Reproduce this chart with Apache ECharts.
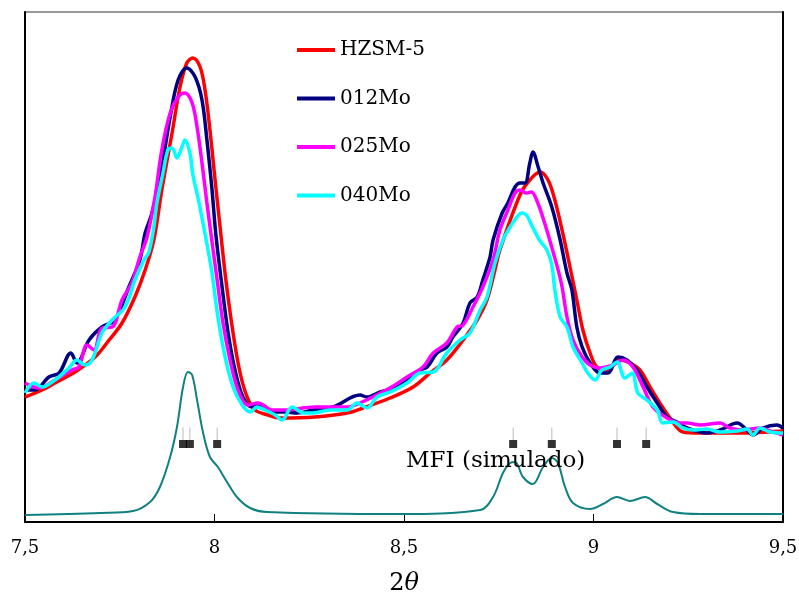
<!DOCTYPE html>
<html>
<head>
<meta charset="utf-8">
<title>DRX 2θ 7,5–9,5</title>
<script src="https://cdn.jsdelivr.net/npm/echarts@6/dist/echarts.min.js"></script>
<style>
  html, body { margin: 0; padding: 0; background: #fff; }
  #chart { width: 799px; height: 594px; }
</style>
</head>
<body>
<div id="chart"></div>
<script>
// Diffractograms, pairs of [2θ (°), intensity (a.u.)]
const hzsm5 = [
  [7.500,125],[7.545,132],[7.579,139],[7.632,150],[7.685,165],[7.722,182],[7.756,199],
  [7.790,225],[7.817,252],[7.840,282],[7.861,332],[7.888,389],[7.909,435],[7.927,459],
  [7.943,464],[7.962,455],[7.975,432],[7.988,392],[8.001,344],[8.015,294],[8.030,242],
  [8.049,189],[8.067,150],[8.086,125],[8.107,112],[8.141,107],[8.173,104],[8.265,105],
  [8.350,109],[8.392,114],[8.463,124],[8.524,135],[8.569,149],[8.613,162],[8.656,182],
  [8.693,202],[8.719,222],[8.740,252],[8.753,272],[8.806,327],[8.832,342],[8.859,350],
  [8.880,342],[8.898,322],[8.917,292],[8.938,255],[8.956,222],[8.972,192],[8.991,169],
  [9.009,155],[9.036,152],[9.070,162],[9.096,159],[9.123,152],[9.149,135],[9.175,119],
  [9.202,104],[9.236,90],[9.281,89],[9.387,89],[9.500,91]
];
const mo012 = [
  [7.500,132],[7.526,132],[7.563,145],[7.590,149],[7.621,169],[7.637,159],[7.669,182],
  [7.703,195],[7.737,202],[7.774,235],[7.803,262],[7.817,289],[7.835,309],[7.861,355],
  [7.883,405],[7.904,442],[7.927,454],[7.949,445],[7.967,422],[7.980,382],[7.993,334],
  [8.004,286],[8.020,235],[8.036,189],[8.054,152],[8.075,125],[8.099,115],[8.125,117],
  [8.152,110],[8.186,110],[8.218,109],[8.260,112],[8.313,115],[8.384,127],[8.402,125],
  [8.437,130],[8.482,135],[8.542,152],[8.561,155],[8.587,169],[8.613,175],[8.629,185],
  [8.656,199],[8.674,219],[8.693,225],[8.708,242],[8.727,265],[8.735,282],[8.759,309],
  [8.774,319],[8.793,335],[8.806,339],[8.819,339],[8.832,359],[8.840,370],[8.854,355],
  [8.867,339],[8.890,315],[8.912,282],[8.930,249],[8.943,232],[8.956,195],[8.970,175],
  [8.991,159],[9.017,149],[9.038,149],[9.065,165],[9.088,162],[9.115,152],[9.141,135],
  [9.168,119],[9.194,105],[9.220,100],[9.247,94],[9.299,89],[9.334,92],[9.379,99],
  [9.405,92],[9.421,87],[9.447,94],[9.484,97],[9.500,94]
];
const mo025 = [
  [7.500,139],[7.537,134],[7.579,142],[7.624,152],[7.642,155],[7.664,177],[7.682,172],
  [7.703,194],[7.730,195],[7.756,222],[7.782,239],[7.803,265],[7.822,285],[7.843,325],
  [7.861,372],[7.883,409],[7.904,425],[7.922,429],[7.941,419],[7.954,395],[7.967,359],
  [7.980,319],[7.991,287],[8.007,242],[8.022,200],[8.041,162],[8.062,132],[8.088,117],
  [8.115,119],[8.152,112],[8.186,112],[8.265,115],[8.350,115],[8.384,119],[8.463,134],
  [8.508,145],[8.550,155],[8.577,169],[8.613,179],[8.640,195],[8.656,197],[8.682,215],
  [8.708,235],[8.735,262],[8.753,292],[8.774,312],[8.793,329],[8.806,332],[8.823,329],
  [8.836,330],[8.852,320],[8.871,299],[8.892,272],[8.915,239],[8.930,205],[8.946,182],
  [8.970,165],[8.991,157],[9.017,154],[9.051,157],[9.078,162],[9.104,155],[9.131,135],
  [9.157,115],[9.194,104],[9.228,99],[9.247,99],[9.281,97],[9.334,99],[9.360,94],
  [9.394,92],[9.439,94],[9.474,90],[9.500,87]
];
const mo040 = [
  [7.500,129],[7.524,139],[7.545,135],[7.579,142],[7.616,154],[7.637,162],[7.658,157],
  [7.677,162],[7.703,189],[7.730,202],[7.764,215],[7.790,242],[7.814,262],[7.827,270],
  [7.840,295],[7.848,319],[7.864,349],[7.877,372],[7.888,374],[7.901,364],[7.914,375],
  [7.922,382],[7.935,369],[7.943,347],[7.956,325],[7.970,298],[7.983,272],[7.993,250],
  [8.009,205],[8.028,165],[8.049,135],[8.073,117],[8.094,110],[8.112,115],[8.133,112],
  [8.160,107],[8.178,102],[8.205,115],[8.234,109],[8.260,109],[8.305,112],[8.350,112],
  [8.376,119],[8.402,114],[8.429,125],[8.463,130],[8.508,139],[8.542,149],[8.577,150],
  [8.613,169],[8.648,182],[8.674,189],[8.701,212],[8.719,225],[8.740,259],[8.761,282],
  [8.780,295],[8.798,305],[8.811,309],[8.823,307],[8.839,295],[8.859,281],[8.877,272],
  [8.890,257],[8.898,232],[8.912,205],[8.930,195],[8.946,175],[8.970,159],[8.985,149],
  [9.004,142],[9.022,152],[9.044,155],[9.062,160],[9.083,144],[9.102,149],[9.117,129],
  [9.141,122],[9.168,112],[9.183,99],[9.210,100],[9.236,94],[9.263,92],[9.299,93],
  [9.334,90],[9.379,91],[9.405,93],[9.421,87],[9.439,94],[9.466,90],[9.500,89]
];
// Simulated MFI pattern
const mfiSim = [
  [7.500,7],[7.700,9],[7.785,11],[7.830,20],[7.856,35],[7.883,65],[7.901,95],[7.917,135],
  [7.930,150],[7.941,147],[7.954,122],[7.970,89],[7.988,65],[8.009,55],[8.033,40],
  [8.059,25],[8.094,14],[8.139,10],[8.489,8],[8.701,12],[8.735,25],[8.761,49],[8.780,59],
  [8.793,60],[8.814,45],[8.840,38],[8.867,55],[8.890,64],[8.906,59],[8.925,35],[8.946,19],
  [8.991,13],[9.025,18],[9.062,25],[9.096,21],[9.136,25],[9.168,18],[9.210,10],[9.281,8],
  [9.500,8]
];
// Reflection positions (2θ) of the simulated phase and the level they are marked at
const reflections = [7.917, 7.935, 8.007, 8.788, 8.890, 9.062, 9.139];
const reflectionLevel = 78;
const reflectionStemLevel = 88;

const xTicks = { min: 7.5, max: 9.5, step: 0.5 };
const sampleNames = ['HZSM-5', '012Mo', '025Mo', '040Mo'];
const sampleColors = ['#ff0000', '#000080', '#ff00ff', '#00ffff'];
const samples = [hzsm5, mo012, mo025, mo040];

const serif = 'DejaVu Serif';
const chart = echarts.init(document.getElementById('chart'), null, { renderer: 'canvas' });

const sampleSeries = samples.map((d, i) => ({
  name: sampleNames[i],
  type: 'line',
  data: d,
  smooth: 0.35,
  showSymbol: false,
  lineStyle: { color: sampleColors[i], width: 3.5 },
  itemStyle: { color: sampleColors[i] },
  z: 3 + i
}));

chart.setOption({
  animation: false,
  backgroundColor: '#fff',
  grid: {
    left: 25, right: 16, top: 12, bottom: 72,
    containLabel: false, outerBoundsMode: 'none',
    show: true, borderColor: '#333', borderWidth: 1.2
  },
  legend: {
    data: sampleNames,
    orient: 'vertical',
    left: 292,
    top: 35,
    itemWidth: 38,
    itemHeight: 4,
    itemGap: 28.5,
    icon: 'rect',
    textStyle: { fontFamily: serif, fontSize: 20, color: '#000' }
  },
  xAxis: {
    type: 'value',
    min: xTicks.min,
    max: xTicks.max,
    interval: xTicks.step,
    name: '{n|2}{t|θ}',
    nameLocation: 'middle',
    nameGap: 50,
    nameTextStyle: {
      rich: {
        n: { fontFamily: serif, fontSize: 24, color: '#000' },
        t: { fontFamily: serif, fontSize: 24, fontStyle: 'italic', color: '#000' }
      }
    },
    axisLine: { lineStyle: { color: '#000', width: 2 } },
    axisTick: { inside: true, length: 8, lineStyle: { color: '#000', width: 1 } },
    axisLabel: {
      fontFamily: serif, fontSize: 18, color: '#000', margin: 17,
      formatter: v => String(v).replace('.', ',')
    },
    splitLine: { show: false }
  },
  yAxis: [
    { type: 'value', min: 0, max: 510, axisLabel: { show: false }, axisTick: { show: false },
      splitLine: { show: false }, axisLine: { show: true, lineStyle: { color: '#000', width: 2 } } },
    { type: 'value', min: 0, max: 510, position: 'right', axisLabel: { show: false }, axisTick: { show: false },
      splitLine: { show: false }, axisLine: { show: true, lineStyle: { color: '#000', width: 2 } } }
  ],
  graphic: [{
    type: 'text',
    left: 406,
    top: 450,
    style: { text: 'MFI (simulado)', fontFamily: serif, fontSize: 23, fill: '#000' },
    z: 20
  }],
  series: [
    ...sampleSeries,
    {
      name: 'MFI (simulado)',
      type: 'line',
      data: mfiSim,
      smooth: 0.35,
      showSymbol: false,
      lineStyle: { color: '#108080', width: 2 },
      z: 2
    },
    {
      name: 'reflexões (haste)',
      type: 'scatter',
      data: reflections.map(x => [x, reflectionStemLevel]),
      symbol: 'rect',
      symbolSize: [1, 13],
      itemStyle: { color: '#aaaaaa' },
      z: 2
    },
    {
      name: 'reflexões',
      type: 'scatter',
      data: reflections.map(x => [x, reflectionLevel]),
      symbol: 'rect',
      symbolSize: 8,
      itemStyle: { color: '#000' },
      z: 2
    }
  ]
});
</script>
</body>
</html>
